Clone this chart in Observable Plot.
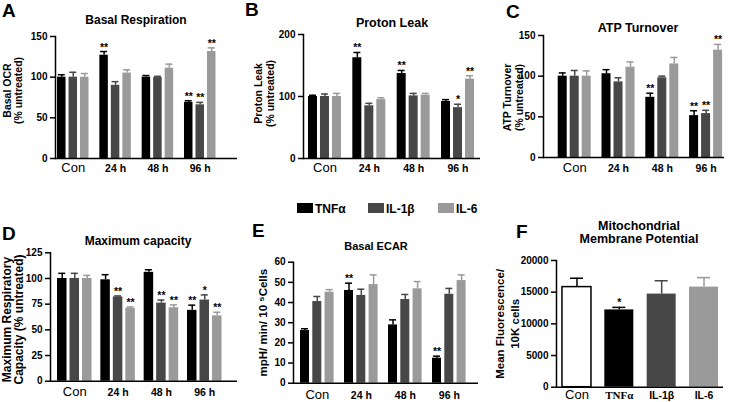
<!DOCTYPE html>
<html><head><meta charset="utf-8">
<script src="https://cdn.jsdelivr.net/npm/d3@7"></script>
<script src="https://cdn.jsdelivr.net/npm/@observablehq/plot@0.6"></script>
<style>
body{margin:0;background:#fff}
#fig{position:relative;width:729px;height:402px;overflow:hidden;font-family:"Liberation Sans",Arial,sans-serif;background:#fff}
#fig svg{position:absolute}
#fig svg line,#fig svg path{stroke-width:1.5px}
#fig svg g:not([font-weight]) > text{font-weight:bold !important;font-family:"Liberation Sans",Arial,sans-serif}
.t{position:absolute;white-space:nowrap;font-weight:bold;color:#000}
.sw{position:absolute}
</style></head><body><div id="fig"></div>
<script>
const groups = ["Con", "24 h", "48 h", "96 h"];
const seriesNames = ["TNFα", "IL-1β", "IL-6"];
const seriesColors = ["#000000", "#474747", "#9a9a9a"];

// A: Basal Respiration
const basalTNF = [100, 127, 100, 69];
const basalIL1 = [100, 90, 99.5, 66];
const basalIL6 = [100, 105, 111, 131.5];
const basalSemTNF = [3, 4.5, 2, 2];
const basalSemIL1 = [6, 4.5, 1.5, 3];
const basalSemIL6 = [4.5, 4, 5, 4.5];
const basalStarTNF = ["", "**", "", "**"];
const basalStarIL1 = ["", "", "", "**"];
const basalStarIL6 = ["", "", "", "**"];
const basalTicks = [0, 50, 100, 150];

// B: Proton Leak
const leakTNF = [100, 162.5, 137, 92];
const leakIL1 = [100, 85, 101, 82];
const leakIL6 = [100, 95, 102, 128];
const leakSemTNF = [2, 8.5, 5, 3];
const leakSemIL1 = [4, 4, 4, 5.5];
const leakSemIL6 = [5, 3, 3, 5.5];
const leakStarTNF = ["", "**", "**", ""];
const leakStarIL1 = ["", "", "", "*"];
const leakStarIL6 = ["", "", "", "**"];
const leakTicks = [0, 100, 200];

// C: ATP Turnover
const atpTNF = [100, 103, 74, 51.5];
const atpIL1 = [100, 93, 98, 54];
const atpIL6 = [100, 111, 115, 132];
const atpSemTNF = [4, 5, 5, 6];
const atpSemIL1 = [7, 5, 2, 4];
const atpSemIL6 = [6.5, 6.5, 8, 7];
const atpStarTNF = ["", "", "**", "**"];
const atpStarIL1 = ["", "", "", "**"];
const atpStarIL6 = ["", "", "", "**"];
const atpTicks = [0, 50, 100, 150];

// D: Maximum capacity
const maxTNF = [100, 98.7, 106, 69];
const maxIL1 = [100, 82, 76, 79];
const maxIL6 = [100, 71, 71.5, 63.6];
const maxSemTNF = [5, 5, 2.5, 5];
const maxSemIL1 = [5, 1, 3, 5];
const maxSemIL6 = [3, 1.3, 2.8, 3.5];
const maxStarTNF = ["", "", "", "**"];
const maxStarIL1 = ["", "**", "**", "*"];
const maxStarIL6 = ["", "**", "**", "**"];
const maxTicks = [0, 25, 50, 75, 100, 125];

// E: Basal ECAR
const ecarTNF = [26.1, 46, 28.9, 12.4];
const ecarIL1 = [40.5, 43.5, 41.5, 44.1];
const ecarIL6 = [45.1, 48.9, 46.8, 50.9];
const ecarSemTNF = [0.9, 3.6, 2.5, 1];
const ecarSemIL1 = [2.5, 3.1, 2.5, 2.9];
const ecarSemIL6 = [1.3, 4.8, 3.6, 2.8];
const ecarStarTNF = ["", "**", "", "**"];
const ecarStarIL1 = ["", "", "", ""];
const ecarStarIL6 = ["", "", "", ""];
const ecarTicks = [0, 10, 20, 30, 40, 50, 60];

// F: Mitochondrial Membrane Potential
const mmpCategories = ["Con", "TNFα", "IL-1β", "IL-6"];
const mmpValues = [15800, 12200, 14700, 15800];
const mmpSem = [1400, 400, 2100, 1500];
const mmpStars = ["", "*", "", ""];
const mmpFills = ["#ffffff", "#000000", "#474747", "#9a9a9a"];
const mmpStrokes = ["#000000", "#000000", "#474747", "#9a9a9a"];
const mmpTicks = [0, 5000, 10000, 15000, 20000];

const fig = document.getElementById("fig");
const FONT = "Liberation Sans, Arial, sans-serif";

function rowsOf(means, sems, stars) {
  return means.flatMap((m, k) => m.map((v, i) => ({group: groups[i], k, mean: v, top: v + sems[k][i], star: stars[k][i]})));
}

function place(el, left, top) {
  el.style.position = "absolute";
  el.style.left = left + "px";
  el.style.top = top + "px";
  fig.appendChild(el);
}

function yLabelMark(label, yl) {
  return Plot.text([label], {text: d => d, frameAnchor: "left", textAnchor: "middle", lineAnchor: "middle", rotate: -90,
    dx: yl.dx, dy: yl.dy, fontSize: yl.size, lineHeight: yl.lh, fontWeight: "bold", fontFamily: FONT});
}

function barPanel(c) {
  const P = (c.xRange[1] - c.xRange[0]) / groups.length;
  const inBar = (P - c.bw) / 2, inCap = (P - c.cap) / 2;
  const marks = [];
  for (let k = 0; k < 3; k++) {
    const r = c.rows.filter(d => d.k === k);
    const dx = (k - 1) * c.step;
    marks.push(Plot.barY(r, {x: "group", y: "mean", fill: seriesColors[k], insetLeft: inBar, insetRight: inBar, dx}));
    marks.push(Plot.ruleX(r, {x: "group", y1: "mean", y2: "top", stroke: seriesColors[k], dx}));
    marks.push(Plot.tickY(r, {x: "group", y: "top", stroke: seriesColors[k], insetLeft: inCap, insetRight: inCap, dx}));
    marks.push(Plot.text(r.filter(d => d.star), {x: "group", y: "top", text: "star", dx, dy: -1, lineAnchor: "bottom", fontSize: 10.5, fontWeight: "bold", fontFamily: FONT, fill: "#000"}));
  }
  marks.push(Plot.ruleY([0], {stroke: "#000"}));
  marks.push(Plot.text(groups.filter(g => g === "Con"), {x: d => d, text: d => d, frameAnchor: "bottom", lineAnchor: "bottom", dy: c.labelDy, fontSize: 13, fontWeight: "normal", fontFamily: FONT}));
  marks.push(Plot.text(groups.filter(g => g !== "Con"), {x: d => d, text: d => d, frameAnchor: "bottom", lineAnchor: "bottom", dy: c.labelDy, fontSize: 10.5, fontWeight: "bold", fontFamily: FONT}));
  marks.push(yLabelMark(c.ylabel, c.yl));
  const svg = Plot.plot({
    width: c.width, height: c.height,
    marginLeft: c.ml, marginRight: c.mr, marginTop: c.mt, marginBottom: c.mb,
    x: {type: "band", domain: groups, range: c.xRange, padding: 0, round: false, axis: null},
    y: {domain: c.yDomain, ticks: c.yTicks, tickSize: 5, tickPadding: 3, line: true, label: null, tickFormat: "d"},
    style: {fontFamily: FONT, fontSize: "10px", fontWeight: "bold", background: "transparent", overflow: "visible", color: "#000"},
    marks
  });
  place(svg, c.left, c.top);
}

barPanel({left: 0, top: 0, width: 243, height: 190, ml: 55, mr: 6, mt: 36, mb: 32,
  xRange: [51.6, 220.9], step: 11.5, bw: 8.5, cap: 7, yDomain: [0, 150], yTicks: basalTicks, labelDy: 13.5,
  rows: rowsOf([basalTNF, basalIL1, basalIL6], [basalSemTNF, basalSemIL1, basalSemIL6], [basalStarTNF, basalStarIL1, basalStarIL6]),
  ylabel: "Basal OCR\n(% untreated)", yl: {dx: -42.5, dy: -7, size: 10.5, lh: 1.1}});

barPanel({left: 243, top: 0, width: 243, height: 190, ml: 60, mr: 6, mt: 34, mb: 32,
  xRange: [59.3, 236.7], step: 12, bw: 9, cap: 7, yDomain: [0, 200], yTicks: leakTicks, labelDy: 13.7,
  rows: rowsOf([leakTNF, leakIL1, leakIL6], [leakSemTNF, leakSemIL1, leakSemIL6], [leakStarTNF, leakStarIL1, leakStarIL6]),
  ylabel: "Proton Leak\n(% untreated)", yl: {dx: -39.5, dy: -3, size: 10.5, lh: 1.15}});

barPanel({left: 486, top: 0, width: 243, height: 190, ml: 57, mr: 5, mt: 35, mb: 33,
  xRange: [66.3, 241.5], step: 12, bw: 9, cap: 7, yDomain: [0, 150], yTicks: atpTicks, labelDy: 14.5,
  rows: rowsOf([atpTNF, atpIL1, atpIL6], [atpSemTNF, atpSemIL1, atpSemIL6], [atpStarTNF, atpStarIL1, atpStarIL6]),
  ylabel: "ATP Turnover\n(% untreated)", yl: {dx: -30, dy: 1, size: 10.5, lh: 1.1}});

barPanel({left: 0, top: 190, width: 243, height: 212, ml: 50, mr: 6, mt: 62.3, mb: 21.3,
  xRange: [52.6, 225.9], step: 12.5, bw: 9.5, cap: 7, yDomain: [0, 125], yTicks: maxTicks, labelDy: 14.3,
  rows: rowsOf([maxTNF, maxIL1, maxIL6], [maxSemTNF, maxSemIL1, maxSemIL6], [maxStarTNF, maxStarIL1, maxStarIL6]),
  ylabel: "Maximum Respiratory\nCapacity (% untreated)", yl: {dx: -37, dy: 2.5, size: 12, lh: 1.0}});

barPanel({left: 243, top: 190, width: 243, height: 212, ml: 50, mr: 8, mt: 71.7, mb: 19.3,
  xRange: [51.8, 227.8], step: 12.3, bw: 9, cap: 7, yDomain: [0, 60], yTicks: ecarTicks, labelDy: 15.3,
  rows: rowsOf([ecarTNF, ecarIL1, ecarIL6], [ecarSemTNF, ecarSemIL1, ecarSemIL6], [ecarStarTNF, ecarStarIL1, ecarStarIL6]),
  ylabel: "mpH/ min/ 10 \u2075Cells", yl: {dx: -30, dy: 0, size: 11.5, lh: 1.0}});

// Panel F
(function () {
  const xRange = [69.3, 238.7];
  const P = (xRange[1] - xRange[0]) / mmpCategories.length;
  const bw = 29, cap = 13;
  const rows = mmpCategories.map((c, i) => ({cat: c, mean: mmpValues[i], top: mmpValues[i] + mmpSem[i], star: mmpStars[i], i}));
  const marks = [];
  rows.forEach(r => {
    marks.push(Plot.ruleX([r], {x: "cat", y1: "mean", y2: "top", stroke: mmpStrokes[r.i]}));
    marks.push(Plot.tickY([r], {x: "cat", y: "top", stroke: mmpStrokes[r.i], insetLeft: (P - cap) / 2, insetRight: (P - cap) / 2}));
    marks.push(Plot.barY([r], {x: "cat", y: "mean", fill: mmpFills[r.i], stroke: r.i === 0 ? "#000" : "none", strokeWidth: 1.5, insetLeft: (P - bw) / 2, insetRight: (P - bw) / 2}));
  });
  marks.push(Plot.text(rows.filter(d => d.star), {x: "cat", y: "top", text: "star", dy: -1.5, lineAnchor: "bottom", fontSize: 10.5, fontWeight: "bold", fontFamily: FONT}));
  marks.push(Plot.ruleY([0], {stroke: "#000"}));
  const lab = {frameAnchor: "bottom", lineAnchor: "bottom", dy: 11.6, x: d => d, text: d => d};
  marks.push(Plot.text(mmpCategories.filter(c => c === "Con"), {...lab, fontSize: 13, fontWeight: "normal", fontFamily: FONT}));
  marks.push(Plot.text(mmpCategories.filter(c => c === "TNFα"), {...lab, fontSize: 11, fontWeight: "bold", fontFamily: "Liberation Serif, Times New Roman, serif"}));
  marks.push(Plot.text(mmpCategories.filter(c => c !== "Con" && c !== "TNFα"), {...lab, fontSize: 10.5, fontWeight: "bold", fontFamily: FONT}));
  marks.push(yLabelMark("Mean Fluorescence/\n10K cells", {dx: -49.5, dy: 0, size: 11.5, lh: 1.25}));
  const svg = Plot.plot({
    width: 243, height: 212, marginLeft: 70, marginRight: 6, marginTop: 70, marginBottom: 15.3,
    x: {type: "band", domain: mmpCategories, range: xRange, padding: 0, round: false, axis: null},
    y: {domain: [0, 20000], ticks: mmpTicks, tickSize: 5, tickPadding: 3, line: true, label: null, tickFormat: "d"},
    style: {fontFamily: FONT, fontSize: "10px", fontWeight: "bold", background: "transparent", overflow: "visible", color: "#000"},
    marks
  });
  place(svg, 486, 190);
})();

// Letters, titles, legend (HTML text)
function txt(s, x, base, size, anchor = "start") {
  const d = document.createElement("div");
  d.className = "t";
  d.textContent = s;
  d.style.fontSize = size + "px";
  d.style.lineHeight = "1";
  d.style.left = x + "px";
  // baseline at `base` for Liberation Sans metrics with line-height 1
  d.style.top = (base - 0.8465 * size) + "px";
  if (anchor === "middle") d.style.transform = "translateX(-50%)";
  fig.appendChild(d);
}
const panelLetters = ["A", "B", "C", "D", "E", "F"];
const letterPos = [[2, 16.7], [245, 16], [506, 18.5], [2, 240], [252, 237], [516, 238]];
panelLetters.forEach((L, i) => txt(L, letterPos[i][0], letterPos[i][1], 19));

txt("Basal Respiration", 136, 24.5, 12, "middle");
txt("Proton Leak", 392, 27.5, 12.5, "middle");
txt("ATP Turnover", 638, 33, 12.5, "middle");
txt("Maximum capacity", 138, 245.5, 12, "middle");
txt("Basal ECAR", 376, 250, 11, "middle");
txt("Mitochondrial", 639, 230.5, 12.5, "middle");
txt("Membrane Potential", 639, 243.5, 12.5, "middle");

const legendX = [297, 368, 438];
seriesNames.forEach((s, k) => {
  const sw = document.createElement("div");
  sw.className = "sw";
  sw.style.left = legendX[k] + "px";
  sw.style.top = "203px";
  sw.style.width = "16px";
  sw.style.height = "10px";
  sw.style.background = seriesColors[k];
  fig.appendChild(sw);
  txt(s, legendX[k] + 18, 213, 12);
});
</script></body></html>
